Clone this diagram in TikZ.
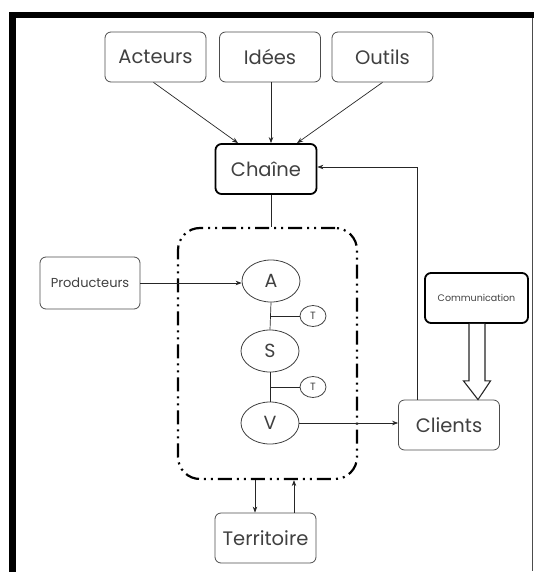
\documentclass[tikz,border=0pt]{standalone}
\usepackage{fontspec}
\setmainfont{Poppins}
\usetikzlibrary{shapes.geometric,arrows.meta,calc}
\begin{document}
\begin{tikzpicture}[x=1pt,y=-1pt,
  box/.style={draw=black!70, line width=0.8pt, rounded corners=6pt, minimum width=101pt, minimum height=50pt, inner sep=0pt, text=black!75, font=\fontsize{19.5}{19.5}\selectfont},
  thickbox/.style={box, draw=black, line width=1.8pt},
  oval/.style={ellipse, draw=black!75, line width=0.8pt, minimum width=58pt, minimum height=42pt, inner sep=0pt, text=black!75, font=\fontsize{19}{19}\selectfont},
  tcirc/.style={ellipse, draw=black!75, line width=0.8pt, minimum width=26pt, minimum height=21pt, inner sep=0pt, text=black!75, font=\fontsize{10.5}{10.5}\selectfont},
  procbox/.style={draw=black, line width=2.2pt, rounded corners=22pt, dash pattern=on 14pt off 5pt on 2pt off 5pt on 2pt off 5pt, minimum width=179pt, minimum height=251pt, inner sep=0pt},
  arr/.style={draw=black!85, line width=0.7pt, -{Stealth[length=6pt,width=4.5pt]}},
  ln/.style={draw=black!85, line width=0.7pt}
]
\useasboundingbox (0,0) rectangle (534,572);
% frame
\fill[black] (9,12) rectangle (16,572);
\fill[black] (9,12) rectangle (534,18);
\draw[black!70, line width=1.2pt] (532.5,18) -- (532.5,571);

% nodes
\node[box] (act) at (155.5,57) {Acteurs};
\node[box] (idees) at (270,57) {Idées};
\node[box] (outils) at (382.5,57) {Outils};
\node[thickbox] (chaine) at (266,169) {Chaîne};
\node[procbox] (proc) at (267.5,353.5) {};
\node[box, minimum width=100pt, minimum height=52pt, font=\fontsize{13}{13}\selectfont] (prod) at (90,283) {Producteurs};
\node[thickbox, minimum width=103pt, font=\fontsize{9.5}{9.5}\selectfont] (comm) at (476.5,298) {Communication};
\node[box] (clients) at (449,425) {Clients};
\node[box] (terr) at (265.5,538) {Territoire};
\node[oval] (A) at (271,281) {A};
\node[oval] (S) at (270,351) {S};
\node[oval] (V) at (270,423) {V};
\node[tcirc] (T1) at (313,316) {T};
\node[tcirc] (T2) at (313,387) {T};

% connectors top
\draw[arr] ([xshift=-2pt]act.south) -- ([xshift=-28pt]chaine.north);
\draw[arr] ([xshift=1pt]idees.south) -- ([xshift=5pt]chaine.north);
\draw[arr] (outils.south) -- ([xshift=31pt]chaine.north);
\draw[ln] ([xshift=5pt]chaine.south) -- ([xshift=5pt]chaine.south |- proc.north);

% feedback from clients
\coordinate (cf) at ([xshift=-32pt]clients.north);
\draw[arr] (cf) |- ([yshift=2pt]chaine.east);

% producteurs -> A
\draw[arr] (prod.east) -- (prod.east -| A.west);

% chain A S V
\draw[ln] (A.south) -- (S.north);
\draw[ln] (S.south) -- (V.north);
\draw[ln] (T1.west) -- (T1.west -| A.south);
\draw[ln] (T2.west) -- (T2.west -| S.south);

% V -> clients
\draw[arr] (V.east) -- (V.east -| clients.west);

% territoire
\coordinate (tdown) at ([xshift=-10.5pt]terr.north);
\coordinate (tup) at ([xshift=28.5pt]terr.north);
\draw[arr] (tdown |- proc.south) -- (tdown);
\draw[arr] (tup) -- (tup |- proc.south);

% hollow arrow communication -> clients
\draw[black!85, line width=1.1pt, fill=white, line join=miter]
  ($(comm.south)+(-7.5,0)$) -- ($(comm.south)+(-7.5,57)$) -- ($(comm.south)+(-13,57)$)
  -- ($(clients.north)+(29,0)$) -- ($(comm.south)+(14,57)$) -- ($(comm.south)+(8.5,57)$)
  -- ($(comm.south)+(8.5,0)$);
\end{tikzpicture}
\end{document}
